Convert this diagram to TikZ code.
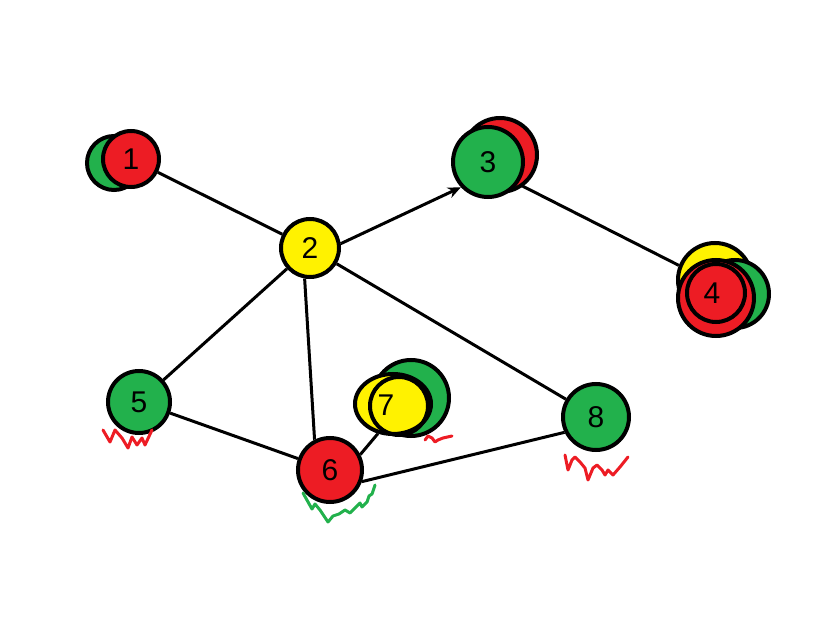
\documentclass[tikz,border=0pt]{standalone}
\usepackage{fontspec}
\setmainfont{Liberation Sans}
\usetikzlibrary{arrows.meta,shapes.geometric,backgrounds}
\definecolor{pgreen}{RGB}{34,177,76}
\definecolor{pred}{RGB}{237,28,36}
\definecolor{pyellow}{RGB}{255,242,0}
\begin{document}
\begin{tikzpicture}[x=1pt,y=-1pt,
  ball/.style={circle,draw=black,line width=4pt,inner sep=0pt,font=\fontsize{30}{30}\selectfont},
  ring/.style={circle,draw=black,line width=4pt,inner sep=0pt},
  edge/.style={line width=3pt,draw=black},
  squig/.style={line width=3pt,line join=round,line cap=round}]
\useasboundingbox (0,0) rectangle (831,639);

% node 1
\node[ball,fill=pgreen,minimum size=54pt] (n1b) at (114,163) {};
\node[ball,fill=pred,minimum size=56pt] (n1) at (131,159) {1};
% node 2
\node[ball,fill=pyellow,minimum size=58pt] (n2) at (310,248) {2};
% node 3
\node[ball,fill=pred,minimum size=74pt] (n3b) at (500,155) {};
\node[ball,fill=pgreen,minimum size=70pt] (n3) at (488,162) {3};
% node 4
\node[ball,fill=pyellow,minimum size=74pt] (n4y) at (715,280) {};
\node[ball,fill=pgreen,minimum size=68pt] (n4g) at (735,294) {};
\node[ball,fill=pred,minimum size=76pt] (n4) at (716,298) {};
\node[ring,minimum size=58pt] (n4o) at (716,293) {};
\node[font=\fontsize{30}{30}\selectfont] (t4) at (712,293) {4};
% node 5
\node[ball,fill=pgreen,minimum size=62pt] (n5) at (139,402) {5};
% node 6
\node[ball,fill=pred,minimum size=64pt] (n6) at (330,470) {6};
% node 7
\node[ball,fill=pgreen,minimum size=76pt] (n7g) at (411,398) {};
\node[ball,ellipse,fill=pyellow,minimum width=76pt,minimum height=60pt] (n7) at (393,404) {};
\node[ring,minimum size=58pt] (n7o) at (399,406) {};
\node[font=\fontsize{30}{30}\selectfont] (t7) at (386,405) {7};
% node 8
\node[ball,fill=pgreen,minimum size=66pt] (n8) at (596,417) {8};

\begin{pgfonlayer}{background}
\draw[edge] (n1) -- (n2);
\draw[edge,-{Stealth[length=13pt,width=11pt]}] (n2.8) -- (n3.223);
\draw[edge] (n3.-36) -- (n4y.158);
\draw[edge] (n2) -- (n5);
\draw[edge] (n2.-100) -- (n6.117);
\draw[edge] (n2) -- (n8);
\draw[edge] (n5) -- (n6);
\draw[edge] (n6.27) -- (n7.-117);
\draw[edge] (n6.-20) -- (n8.206);
\end{pgfonlayer}

% squiggles
\draw[squig,pred] (103,430) -- (110,442) -- (115,430) -- (122,438) -- (128,448) -- (132,437) -- (137,445) -- (142,438) -- (145,445) -- (152,430);
\draw[squig,pgreen] (303,493) -- (312,509) -- (315,504) -- (320,510) -- (328,522) -- (333,516) -- (339,514) -- (345,510) -- (350,513) -- (357,506) -- (360,503) -- (362,507) -- (367,502) -- (369,496) -- (372,494) -- (375,485);
\draw[squig,pred] (425,440) -- (428,436) -- (432,438) -- (435,442) -- (438,440) -- (443,438) -- (452,436);
\draw[squig,pred] (565,455) -- (568,470) -- (572,460) -- (575,457) -- (580,462) -- (585,468) -- (588,480) -- (593,468) -- (597,465) -- (602,470) -- (605,475) -- (608,470) -- (613,475) -- (620,467) -- (628,457);
\end{tikzpicture}
\end{document}
